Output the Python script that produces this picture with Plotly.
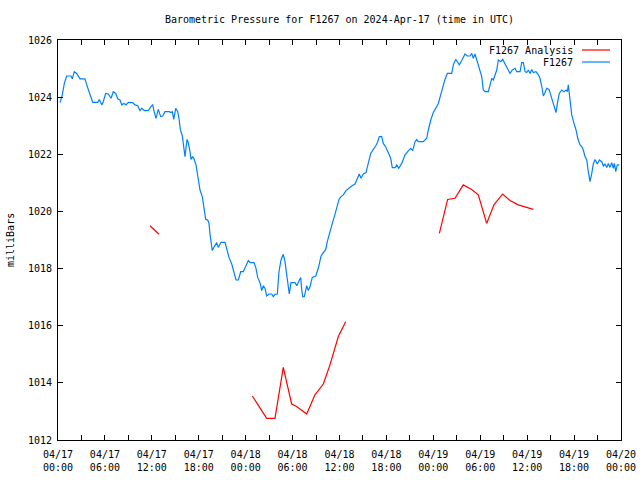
import pandas as pd
import plotly.graph_objects as go

# ---------------- data ----------------
START = pd.Timestamp("2024-04-17 00:00")

# F1267 observations: hours since 2024-04-17 00:00 UTC, pressure (mbar)
obs_hours = [
    0.26, 0.55, 0.81, 1.11, 1.66, 1.83, 2.08, 2.39, 2.81, 3.45, 3.75, 4.09, 4.44, 5.08, 5.28,
    5.59, 5.79, 6.10, 6.43, 6.78, 7.07, 7.38, 7.64, 7.93, 8.15, 8.44, 8.70, 8.99, 9.55, 9.85,
    10.19, 10.49, 10.70, 11.04, 11.55, 11.98, 12.11, 12.32, 12.53, 12.83, 13.13, 13.39, 13.68,
    14.23, 14.45, 14.62, 14.80, 15.05, 15.31, 15.47, 15.64, 15.90, 16.03, 16.24, 16.50, 16.66,
    16.88, 17.01, 17.23, 17.39, 17.65, 17.87, 18.07, 18.16, 18.45, 18.71, 18.89, 19.15, 19.31,
    19.44, 19.57, 19.73, 19.99, 20.30, 20.50, 20.85, 21.36, 21.58, 21.87, 22.22, 22.51, 22.76,
    23.06, 23.37, 23.70, 24.01, 24.34, 24.56, 25.07, 25.32, 25.54, 25.83, 26.05, 26.26, 26.47,
    26.69, 26.99, 27.33, 27.53, 27.75, 28.05, 28.26, 28.52, 28.81, 29.03, 29.25, 29.45, 29.58,
    29.80, 30.31, 30.53, 30.82, 31.04, 31.17, 31.30, 31.50, 31.81, 32.01, 32.23, 32.52, 32.96,
    33.29, 33.64, 33.93, 34.24, 34.44, 34.79, 35.08, 35.34, 35.64, 35.94, 36.19, 36.49, 36.83,
    37.13, 37.56, 37.98, 38.28, 38.53, 38.75, 39.05, 39.39, 39.69, 39.99, 40.32, 40.63, 40.89,
    41.09, 41.40, 41.60, 41.95, 42.24, 42.55, 42.75, 43.10, 43.32, 43.57, 43.96, 44.38, 44.80,
    45.11, 45.36, 45.66, 45.87, 46.08, 46.72, 47.15, 47.36, 47.67, 48.00, 48.34, 48.64, 48.94,
    49.20, 49.49, 49.79, 50.35, 50.56, 50.86, 51.07, 51.32, 51.63, 52.05, 52.35, 52.69, 52.91,
    53.11, 53.33, 53.62, 53.88, 54.19, 54.39, 54.61, 55.03, 55.25, 55.47, 55.67, 55.89, 56.11,
    56.31, 56.62, 56.87, 57.17, 57.46, 57.81, 58.10, 58.45, 58.66, 59.09, 59.30, 59.51, 59.73,
    59.94, 60.15, 60.37, 60.58, 60.79, 61.13, 61.43, 61.64, 61.86, 62.07, 62.28, 62.50, 62.80,
    63.01, 63.27, 63.44, 63.69, 63.86, 64.11, 64.42, 64.71, 64.97, 65.14, 65.26, 65.48, 65.70,
    65.99, 66.25, 66.47, 66.76, 66.98, 67.18, 67.40, 67.62, 67.82, 68.04, 68.26, 68.46, 68.68,
    68.97, 69.23, 69.54, 69.74, 69.96, 70.17, 70.38, 70.60, 70.81, 71.02, 71.15, 71.33, 71.53,
    71.79,
]
obs_pressure = [
    1023.81, 1024.08, 1024.48, 1024.74, 1024.74, 1024.64, 1024.89, 1024.83, 1024.64, 1024.64,
    1024.37, 1024.08, 1023.82, 1023.82, 1023.92, 1023.73, 1023.84, 1024.13, 1024.11, 1023.96,
    1024.19, 1024.13, 1023.94, 1023.90, 1023.73, 1023.78, 1023.73, 1023.82, 1023.81, 1023.73,
    1023.70, 1023.53, 1023.61, 1023.53, 1023.53, 1023.70, 1023.73, 1023.47, 1023.26, 1023.57,
    1023.32, 1023.34, 1023.49, 1023.49, 1023.46, 1023.49, 1023.22, 1023.61, 1023.49, 1023.26,
    1022.87, 1022.64, 1022.27, 1021.92, 1022.52, 1022.41, 1022.09, 1021.82, 1021.92, 1021.84,
    1021.63, 1021.28, 1020.87, 1020.75, 1020.52, 1019.93, 1019.72, 1019.70, 1019.58, 1019.20,
    1018.83, 1018.63, 1018.77, 1018.91, 1018.74, 1018.92, 1018.92, 1018.65, 1018.39, 1018.16,
    1017.83, 1017.60, 1017.60, 1017.89, 1017.89, 1018.09, 1018.28, 1018.21, 1018.21, 1018.01,
    1017.69, 1017.51, 1017.23, 1017.40, 1017.31, 1017.04, 1017.11, 1017.11, 1017.02, 1017.10,
    1017.11, 1017.89, 1018.30, 1018.50, 1018.24, 1017.78, 1017.25, 1017.11, 1017.51, 1017.51,
    1017.40, 1017.58, 1017.69, 1017.25, 1017.02, 1017.02, 1017.40, 1017.23, 1017.37, 1017.69,
    1017.74, 1018.01, 1018.44, 1018.56, 1018.67, 1018.94, 1019.35, 1019.58, 1019.82, 1020.17,
    1020.42, 1020.52, 1020.58, 1020.73, 1020.81, 1020.89, 1020.96, 1021.16, 1021.31, 1021.16,
    1021.31, 1021.36, 1021.74, 1022.03, 1022.17, 1022.29, 1022.44, 1022.62, 1022.62, 1022.38,
    1022.24, 1022.03, 1021.86, 1021.53, 1021.53, 1021.63, 1021.51, 1021.68, 1021.98, 1022.12,
    1022.21, 1022.13, 1022.44, 1022.52, 1022.44, 1022.44, 1022.56, 1022.85, 1023.20, 1023.46,
    1023.61, 1023.78, 1024.08, 1024.37, 1024.62, 1024.83, 1024.83, 1025.13, 1025.32, 1025.24,
    1025.13, 1025.28, 1025.51, 1025.44, 1025.44, 1025.53, 1025.36, 1025.51, 1025.24, 1025.01,
    1024.72, 1024.25, 1024.19, 1024.19, 1024.43, 1024.66, 1024.60, 1024.78, 1024.95, 1025.30,
    1025.24, 1025.32, 1025.13, 1025.01, 1024.83, 1024.95, 1025.01, 1024.89, 1024.89, 1025.21,
    1025.21, 1024.89, 1024.86, 1024.95, 1024.83, 1024.97, 1024.86, 1024.89, 1024.78, 1024.66,
    1024.39, 1024.04, 1024.16, 1024.31, 1024.27, 1024.08, 1023.84, 1023.73, 1023.46, 1023.78,
    1024.13, 1024.25, 1024.19, 1024.25, 1024.19, 1024.43, 1023.84, 1023.38, 1023.08, 1022.85,
    1022.56, 1022.33, 1022.27, 1022.15, 1021.92, 1021.80, 1021.39, 1021.04, 1021.33, 1021.66,
    1021.82, 1021.66, 1021.80, 1021.74, 1021.59, 1021.66, 1021.54, 1021.68, 1021.54, 1021.71,
    1021.51, 1021.68, 1021.39, 1021.63, 1021.63,
]

# F1267 Analysis (None = gap in the series)
ana_hours = [
    11.76, 12.92, None,
    24.85, 26.69, 27.75, 28.81, 29.88, 30.52, 31.80, 32.86, 33.93, 34.78, 35.85, 36.79, None,
    48.77, 49.83, 50.77, 51.83, 52.90, 53.75, 54.82, 55.75, 56.86, 57.80, 58.86, 59.93, 60.78,
]
ana_pressure = [
    1019.50, 1019.20, None,
    1013.54, 1012.76, 1012.76, 1014.54, 1013.26, 1013.17, 1012.91, 1013.58, 1013.96, 1014.63,
    1015.62, 1016.14, None,
    1019.23, 1020.42, 1020.46, 1020.93, 1020.77, 1020.58, 1019.58, 1020.23, 1020.61, 1020.38,
    1020.23, 1020.13, 1020.07,
]

tick_hours = list(range(0, 73, 3))
tick_labels = [
    "04/17<br>00:00", "", "04/17<br>06:00", "", "04/17<br>12:00", "", "04/17<br>18:00", "",
    "04/18<br>00:00", "", "04/18<br>06:00", "", "04/18<br>12:00", "", "04/18<br>18:00", "",
    "04/19<br>00:00", "", "04/19<br>06:00", "", "04/19<br>12:00", "", "04/19<br>18:00", "",
    "04/20<br>00:00",
]
y_ticks = [1012, 1014, 1016, 1018, 1020, 1022, 1024, 1026]

series_names = ["F1267 Analysis", "F1267"]
series_colors = ["#ff0000", "#0080ff"]


def to_time(hours):
    return [None if h is None else START + pd.Timedelta(hours=h) for h in hours]


FONT = "DejaVu Sans Mono"

fig = go.Figure()
fig.add_trace(go.Scatter(x=to_time(obs_hours), y=obs_pressure, mode="lines",
                         line=dict(color=series_colors[1], width=1.2, shape="linear"),
                         name=series_names[1], showlegend=False))
fig.add_trace(go.Scatter(x=to_time(ana_hours), y=ana_pressure, mode="lines",
                         line=dict(color=series_colors[0], width=1.2),
                         connectgaps=False, name=series_names[0], showlegend=False))

fig.update_layout(
    width=640, height=480,
    margin=dict(l=58, r=19, t=40, b=40, autoexpand=False),
    paper_bgcolor="white", plot_bgcolor="white",
    font=dict(family=FONT, size=10, color="black"),
    title=dict(text="Barometric Pressure for F1267 on 2024-Apr-17 (time in UTC)",
               x=0.5, xref="paper", xanchor="center",
               y=1 - 19 / 480, yanchor="middle",
               font=dict(family=FONT, size=10, color="black")),
    xaxis=dict(
        range=[START, START + pd.Timedelta(hours=72)],
        tickmode="array",
        tickvals=to_time(tick_hours),
        ticktext=tick_labels,
        ticks="inside", ticklen=5, tickcolor="black", tickwidth=1,
        showline=True, linecolor="black", linewidth=1, mirror="allticks",
        showgrid=False, zeroline=False, automargin=False,
        tickfont=dict(family=FONT, size=10),
        ticklabelstandoff=5,
    ),
    yaxis=dict(
        range=[1012, 1026],
        tickmode="array", tickvals=y_ticks, ticktext=[str(v) for v in y_ticks],
        ticks="inside", ticklen=5, tickcolor="black", tickwidth=1,
        showline=True, linecolor="black", linewidth=1, mirror="allticks",
        showgrid=False, zeroline=False, automargin=False,
        tickfont=dict(family=FONT, size=10),
        ticklabelstandoff=3,
    ),
)

# y-axis label
fig.add_annotation(text="milliBars", xref="paper", yref="paper",
                   x=(10 - 58) / 563, y=0.5, xanchor="center", yanchor="middle",
                   textangle=-90, showarrow=False, font=dict(family=FONT, size=10))

# gnuplot-style legend (text left, sample line right)
legend_rows_y = [(440 - 50) / 400, (440 - 62) / 400]
for name, color, ly in zip(series_names, series_colors, legend_rows_y):
    fig.add_annotation(text=name, xref="paper", yref="paper",
                       x=(575 - 58) / 563, y=ly, xanchor="right", yanchor="middle",
                       showarrow=False, font=dict(family=FONT, size=10))
    fig.add_shape(type="line", xref="paper", yref="paper",
                  x0=(582 - 58) / 563, x1=(610 - 58) / 563, y0=ly, y1=ly,
                  line=dict(color=color, width=1.2))

fig.write_html("out.html")
